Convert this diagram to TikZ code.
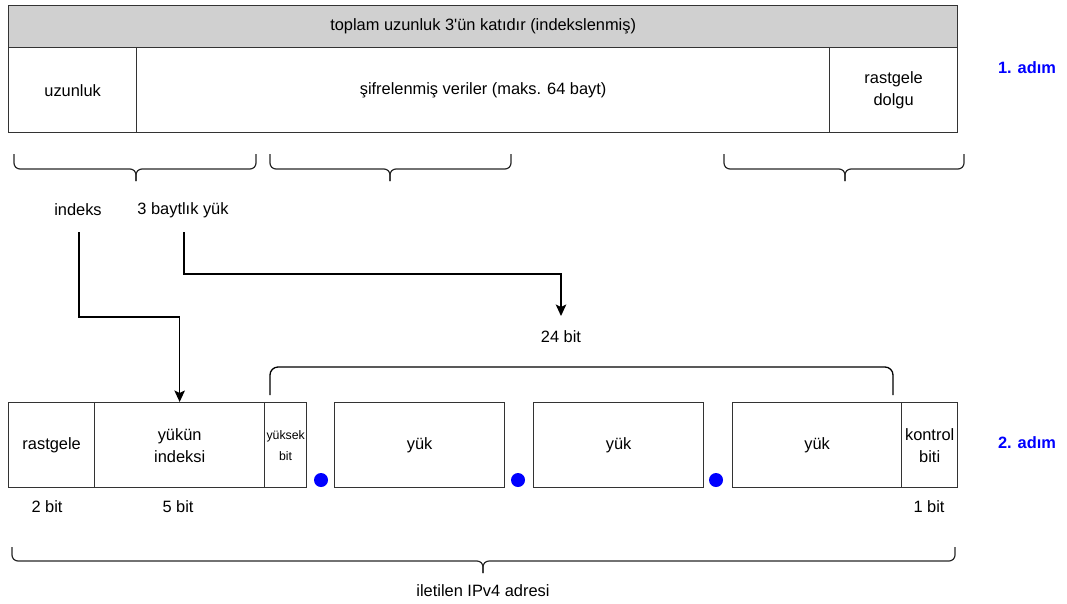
\documentclass[tikz,border=0pt]{standalone}
\usepackage{fontspec}
\setmainfont{Liberation Sans}
\usetikzlibrary{arrows.meta}

\definecolor{edge}{RGB}{51,51,51}
\definecolor{headfill}{RGB}{208,208,208}
\definecolor{stepblue}{RGB}{0,0,255}

\begin{document}
\begin{tikzpicture}[x=1pt,y=-1pt,
  every node/.style={inner sep=0pt, align=center, font=\fontsize{16.4}{22}\selectfont},
  field/.style={draw=edge, line width=1.3pt, anchor=north west, minimum height=85pt},
  tiny/.style={font=\fontsize{12.3}{21}\selectfont},
  steplabel/.style={text=stepblue, font=\fontsize{16.4}{20}\selectfont\bfseries},
  brace/.style={draw=black!85, line width=1.2pt, rounded corners=6pt},
  arr/.style={draw=black, line width=1.4pt, -{Stealth[length=11.5pt, width=10.5pt, inset=2.5pt]}},
  link/.style={draw=black, line width=1.3pt},
  dot/.style={circle, fill=stepblue, minimum size=14pt}]

\useasboundingbox (0,0) rectangle (1067,603);

% --- step 1: record layout ---
\node[field, fill=headfill, minimum width=949pt, minimum height=42pt] (head) at (8,5) {toplam uzunluk 3\textquotesingle ün katıdır (indekslenmiş)};
\node[field, minimum width=128pt] (len) at (8,47) {uzunluk};
\node[field, minimum width=693pt] (data) at (136,47) {şifrelenmiş veriler (maks. 64 bayt)};
\node[field, minimum width=128pt] (pad) at (829,47) {rastgele\\dolgu};
\node[steplabel] (s1) at (1027,68) {1. adım};

% braces under the record
\draw[brace] (14,154) -- (14,169) -- (136,169) -- (136,181);
\draw[brace] (256,154) -- (256,169) -- (136,169) -- (136,181);
\draw[brace] (270,154) -- (270,169) -- (390,169) -- (390,181);
\draw[brace] (511,154) -- (511,169) -- (390,169) -- (390,181);
\draw[brace] (724,154) -- (724,169) -- (845,169) -- (845,181);
\draw[brace] (964,154) -- (964,169) -- (845,169) -- (845,181);

\node (ind) at (78,210) {indeks};
\node (pay) at (183,210) {3 baytlık yük};

% --- step 2: address layout ---
\node[field, minimum width=86pt] (rnd) at (8,402) {rastgele};
\node[field, minimum width=170pt] (idx) at (94,402) {yükün\\indeksi};
\node[field, minimum width=42pt, tiny] (hi) at (264,402) {yüksek\\bit};
\node[field, minimum width=170pt] (p1) at (334,402) {yük};
\node[field, minimum width=170pt] (p2) at (533,402) {yük};
\node[field, minimum width=169pt] (p3) at (732,402) {yük};
\node[field, minimum width=56pt] (chk) at (901,402) {kontrol\\biti};
\node[steplabel] (s2) at (1027,443) {2. adım};

\node[dot] (d1) at (321,480) {};
\node[dot] (d2) at (518,480) {};
\node[dot] (d3) at (716,480) {};

\node (b2) at (47,507) {2 bit};
\node (b5) at (178,507) {5 bit};
\node (b1) at (929,507) {1 bit};
\node (b24) at (561,337) {24 bit};

% arrows from the step-1 fields
\coordinate (ia) at (79,232);
\coordinate (pa) at (184,232);
\coordinate (pt) at (561,316);
\draw[arr] (ia) -- (79,317) -| (idx.north);
\draw[arr] (pa) -- (184,274) -| (pt);

% bracket over the 24 payload bits
\draw[link, rounded corners=8pt] (270,395) -- (270,367) -- (893,367) -- (893,395);

% brace under the whole address
\draw[brace] (12,547) -- (12,561) -- (483,561) -- (483,573);
\draw[brace] (955,547) -- (955,561) -- (483,561) -- (483,573);
\node (addr) at (483,591) {iletilen IPv4 adresi};

\end{tikzpicture}
\end{document}
